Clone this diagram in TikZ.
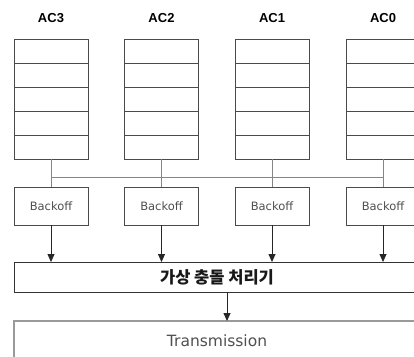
\documentclass[tikz,border=0pt]{standalone}
\usepackage{fontspec}
\setmainfont{DejaVu Sans}
\newfontfamily\labfont{Liberation Sans}
\newfontfamily\kofont{Noto Sans CJK KR}
\usetikzlibrary{arrows.meta,calc}
\definecolor{edgedark}{HTML}{4A4A4A}
\definecolor{busgray}{HTML}{858585}
\definecolor{txgray}{HTML}{505050}
\definecolor{boxgray}{HTML}{9A9A9A}
\begin{document}
\begin{tikzpicture}[x=1pt,y=-1pt,
  queuebox/.style={draw=edgedark, line width=0.9pt, minimum width=74pt, minimum height=120pt,
    inner sep=0pt, outer sep=0pt,
    path picture={\foreach \k in {1,...,4}
      \draw[edgedark, line width=0.9pt]
        ([yshift=-\k*24pt]path picture bounding box.north west) --
        ([yshift=-\k*24pt]path picture bounding box.north east);}},
  aclabel/.style={font=\labfont\bfseries\fontsize{13}{13}\selectfont, anchor=base, inner sep=0pt},
  backoffbox/.style={draw=edgedark, line width=0.7pt, minimum width=74pt, minimum height=38pt,
    inner sep=0pt, outer sep=0pt, text=txgray, font=\fontsize{11.5}{12}\selectfont},
  wide/.style={minimum width=406pt, inner sep=0pt, outer sep=0pt, anchor=north west},
  bus/.style={busgray, line width=0.9pt},
  feed/.style={draw=black!85, line width=0.8pt, -{Triangle[width=7pt,length=8pt]}}
]
\useasboundingbox (0,0) rectangle (414,356);
\clip (0,0) rectangle (414,356);
\fill[white] (0,0) rectangle (414,356);

% four access-category queues with their labels
\foreach \n/\x in {3/51,2/161.5,1/272,0/383}{
  \node[queuebox] (q\n) at (\x,99) {};
  \node[aclabel] (l\n) at (\x,22.3) {AC\n};
  \node[backoffbox] (b\n) at (\x,206) {Backoff};
}

% shared bus joining the queues to the backoff blocks
\coordinate (busy) at (0,177.5);
\draw[bus] (q3.south |- busy) -- (q0.south |- busy);
\foreach \n in {3,2,1,0}
  \draw[bus] (q\n.south) -- (b\n.north);

% virtual collision handler
\node[wide, draw=black!80, line width=0.9pt, minimum height=30pt,
      font=\kofont\bfseries\fontsize{16.5}{16.5}\selectfont, text=black!90]
  (vc) at (14,262) {\raisebox{-2.5pt}{가상 충돌 처리기}};

% transmission stage
\node[wide, draw=boxgray, line width=1.3pt, minimum height=40pt,
      font=\fontsize{15.5}{15.5}\selectfont, text=txgray]
  (tx) at (14,321) {Transmission};

% backoff outputs into the collision handler
\foreach \n in {3,2,1,0}
  \draw[feed] (b\n.south) -- (b\n.south |- vc.north);

% collision handler output
\coordinate (vcout) at (227,0);
\draw[feed] (vcout |- vc.south) -- (vcout |- tx.north);
\end{tikzpicture}
\end{document}
